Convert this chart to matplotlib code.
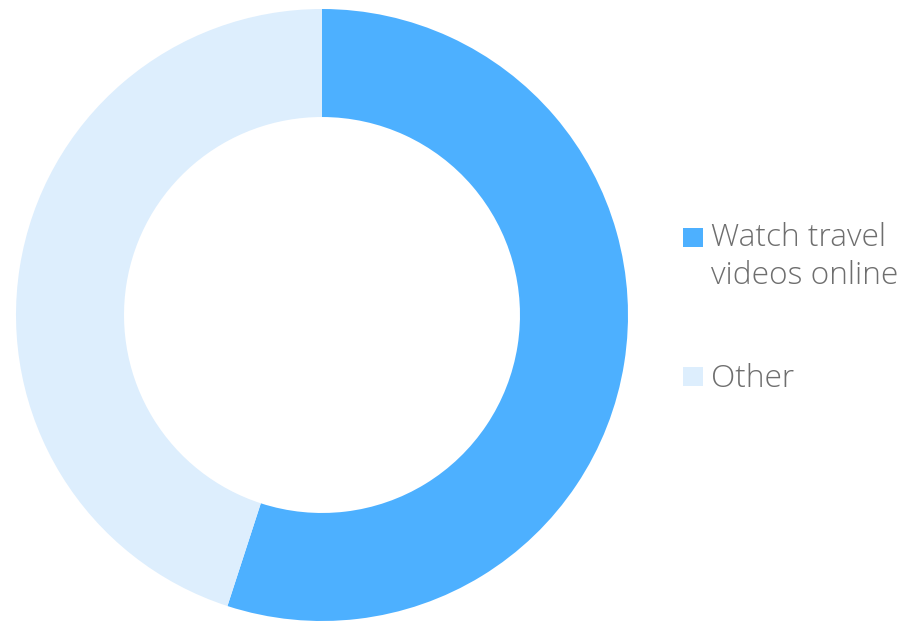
import matplotlib
matplotlib.use("Agg")
import matplotlib.pyplot as plt
from matplotlib.patches import Rectangle

labels = ["Watch travel\nvideos online", "Other"]
shares = [55, 45]
colors = ["#4DB0FF", "#DDEEFD"]

W, H = 912, 621
fig = plt.figure(figsize=(W / 100, H / 100), dpi=100)

# donut: centre (322, 315) px, outer radius 306 px
cx, cy, r = 322, 315, 306
ax = fig.add_axes([(cx - r) / W, 1 - (cy + r) / H, 2 * r / W, 2 * r / H])
ax.pie(shares, colors=colors, startangle=90, counterclock=False,
       radius=1, wedgeprops=dict(width=0.353, linewidth=0))
ax.set_xlim(-1, 1)
ax.set_ylim(-1, 1)
ax.set_aspect("equal")
ax.axis("off")

# legend drawn by hand in pixel units
text_color = "#6E6E6E"
font = dict(family=["Open Sans", "DejaVu Sans"], weight="light", size=22.8, color=text_color)
entries = [(228, [246, 284]), (367, [387])]
for (sq_top, baselines), label, col in zip(entries, labels, colors):
    fig.patches.append(Rectangle((683 / W, 1 - (sq_top + 19) / H), 20 / W, 19 / H,
                                 transform=fig.transFigure, color=col, linewidth=0))
    for line, base in zip(label.split("\n"), baselines):
        fig.text(711 / W, 1 - base / H, line, va="baseline", ha="left", **font)

fig.savefig("out.png", dpi=100)
